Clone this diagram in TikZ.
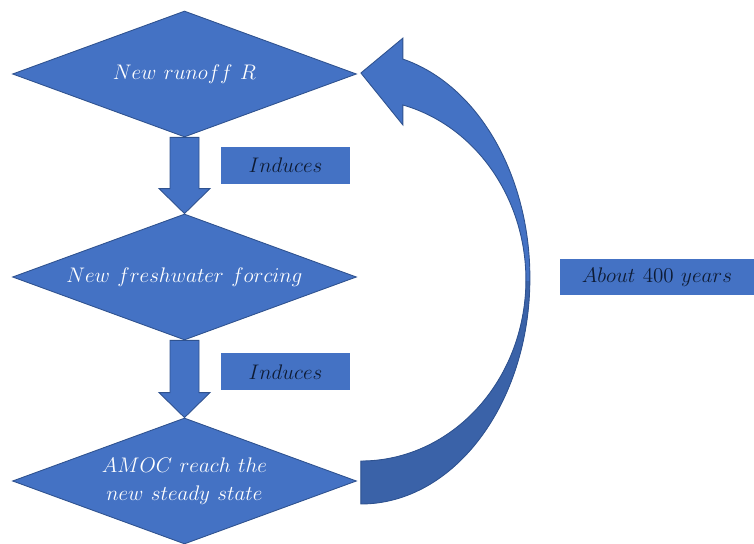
\documentclass[tikz,border=0pt]{standalone}
\usepackage{tikz}
\usetikzlibrary{shapes.geometric,calc,positioning}
\definecolor{officeblue}{HTML}{4472C4}
\definecolor{officeline}{HTML}{2F528F}
\definecolor{officedark}{HTML}{3A62A8}
\definecolor{inktext}{HTML}{0E1B33}
\tikzset{
  stepdiamond/.style={diamond, aspect=2.7, inner sep=0pt, minimum width=6.88cm,
    minimum height=2.52cm, fill=officeblue, draw=officeline, line width=0.5pt,
    text=white, align=center, font=\fontsize{13}{17}\selectfont},
  tagbox/.style={rectangle, fill=officeblue, draw=none, text=inktext, inner sep=0pt,
    minimum height=0.74cm, font=\fontsize{13}{16}\selectfont},
  blockarrow/.style={fill=officeblue, draw=officeline, line width=0.5pt, line join=miter},
}
% outline of the curved return arrow (amoc -> runoff)
\newcommand{\looppath}{($(amoc.east)+(4,-23)$)
  arc[start angle=-90, end angle=75.6, x radius=169, y radius=226]
  -- ++(0,21) -- ($(runoff.east)+(4,1)$) -- ++(42,-52) -- ++(0,20)
  arc[start angle=75.25, end angle=-90, x radius=165, y radius=181] -- cycle}

\begin{document}
\begin{tikzpicture}[x=0.02cm, y=0.02cm]
\useasboundingbox (0,0) rectangle (754,544);
% the three stages
\node[stepdiamond] (runoff) at (184.5,470) {$New\ runoff\ R$};
\node[stepdiamond] (forcing) at (184.5,267) {$New\ freshwater\ forcing$};
\node[stepdiamond] (amoc) at (184.5,63) {$AMOC\ reach\ the$\\[-1pt]$new\ steady\ state$};
% block arrows between stages
\foreach \from/\to in {runoff/forcing, forcing/amoc}{
  \draw[blockarrow]
    ($(\from.south)+(-14.5,0)$) -- ($(\to.north)+(-14.5,25)$)
    -- ($(\to.north)+(-25.5,25)$) -- (\to.north) -- ($(\to.north)+(25.5,25)$)
    -- ($(\to.north)+(14.5,25)$) -- ($(\from.south)+(14.5,0)$) -- cycle;
}
% labels on the block arrows
\node[tagbox, minimum width=2.58cm] (ind1) at (285.5,378.5) {$Induces$};
\node[tagbox, minimum width=2.58cm] (ind2) at (285.5,172) {$Induces$};
% return arrow, darker lower half
\fill[officeblue] \looppath;
\begin{scope}
  \clip (300,0) rectangle (580,262);
  \fill[officedark] \looppath;
\end{scope}
\draw[officeline, line width=0.5pt, line join=miter] \looppath;
\node[tagbox, minimum width=3.88cm, minimum height=0.72cm] (about) at (657,267) {$About\ 400\ years$};
\end{tikzpicture}
\end{document}
